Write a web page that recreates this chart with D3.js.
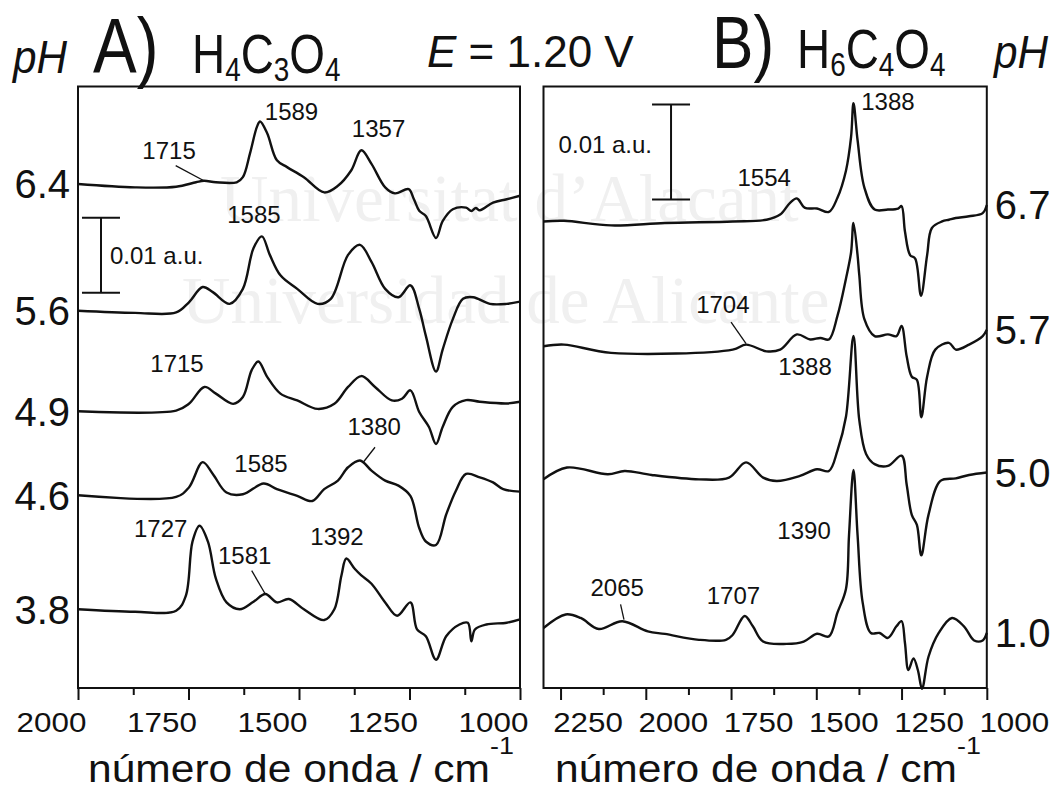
<!DOCTYPE html>
<html>
<head>
<meta charset="utf-8">
<script src="https://cdn.jsdelivr.net/npm/d3@7"></script>
<style>
  body { margin: 0; background: #fff; }
  svg { display: block; font-family: "Liberation Sans", Arial, sans-serif; }
</style>
</head>
<body>
<svg id="chart" width="1060" height="789"></svg>
<script>
// Spectra: [wavenumber / cm-1, change in absorbance / 10^-3 a.u.] relative to the trace offset
const specA64 = [[2000,0],[1871,-0.45],[1778,-0.37],[1733,0.23],[1715,0.43],[1688,0.23],[1641,0.23],[1627,0.91],[1611,4.05],[1595,7.65],[1588,8.33],[1572,6.76],[1550,3.16],[1527,2.25],[1489,0.91],[1443,-1.12],[1412,-0.24],[1382,1.8],[1359,4.5],[1336,2.69],[1305,-0.45],[1283,-1.25],[1252,-0.68],[1240,-2.03],[1228,-3.57],[1213,-4.28],[1190,-7.2],[1175,-4.96],[1152,-3.37],[1122,-3.15],[1110,-3.6],[1100,-3.2],[1091,-3.5],[1061,-2.48],[1030,-2.03],[1000,-1.57]];
const specA56 = [[2000,0],[1871,-0.28],[1778,-0.23],[1749,1.13],[1718,3.16],[1695,2.48],[1657,0.92],[1627,2.92],[1603,8.33],[1584,9.91],[1566,7.45],[1542,4.73],[1504,2.92],[1458,0.92],[1428,1.59],[1389,7.45],[1362,8.79],[1336,6.52],[1305,2.92],[1275,1.8],[1248,3.39],[1228,0.25],[1213,-3.35],[1190,-8.1],[1175,-5.17],[1152,-1.12],[1129,1.59],[1106,1.8],[1068,0.92],[1030,0.92],[1000,1.21]];
const specA49 = [[2000,0],[1778,0.09],[1749,0.99],[1714,3.24],[1688,2.35],[1649,0.99],[1627,1.89],[1607,5.49],[1592,6.63],[1572,4.59],[1542,2.35],[1504,1.44],[1458,0.31],[1420,0.99],[1389,3.24],[1359,4.69],[1328,3.24],[1290,1.44],[1267,1.67],[1248,2.79],[1228,-0.1],[1206,-2.1],[1190,-4.37],[1175,-2.1],[1152,0.59],[1122,1.49],[1091,1.27],[1030,1.04],[1000,1.27]];
const specA46 = [[2000,0],[1778,-0.23],[1749,1.04],[1718,4.41],[1695,2.84],[1664,0.36],[1627,0.13],[1580,1.57],[1550,0.81],[1504,-0.09],[1470,-0.77],[1443,0.81],[1412,1.95],[1389,3.73],[1362,4.64],[1336,3.28],[1305,1.95],[1275,1.28],[1248,-0.09],[1228,-4.37],[1213,-6.17],[1190,-6.63],[1167,-2.57],[1145,0.61],[1122,2.84],[1091,2.39],[1061,1.71],[1038,0.81],[1000,0.49]];
const specA38 = [[2000,0],[1871,-0.33],[1778,-0.2],[1756,1.8],[1741,9.01],[1725,11.13],[1706,9.01],[1688,4.07],[1664,0.91],[1634,0],[1603,1.0],[1576,2.03],[1550,0.91],[1523,1.36],[1489,0],[1443,-1.44],[1420,0],[1404,4.51],[1393,6.76],[1374,5.4],[1359,4.51],[1336,3.4],[1305,0.91],[1278,-0.87],[1248,0.91],[1233,-2.69],[1213,-3.6],[1190,-6.73],[1167,-3.6],[1137,-2.03],[1118,-1.8],[1110,-4.28],[1102,-2.69],[1076,-2.03],[1030,-1.8],[1000,-1.35]];

const specB67 = [[2300,0],[2240,0.07],[2102,-0.42],[1944,-0.17],[1745,0],[1646,0.18],[1606,0.72],[1577,1.96],[1557,2.42],[1533,1.43],[1498,1.36],[1463,1.0],[1438,2.49],[1413,5.34],[1398,8.89],[1391,12.45],[1379,8.57],[1359,3.56],[1329,1.25],[1290,1.25],[1260,1.36],[1250,1.62],[1240,-1.06],[1225,-3.54],[1210,-3.91],[1193,-7.82],[1175,-3.54],[1161,-0.69],[1131,0],[1111,0.18],[1091,0.36],[1052,0.54],[1012,0.88],[1000,1.73]];
const specB57 = [[2300,0],[2240,0.18],[2102,-0.69],[1745,-0.35],[1706,0.18],[1646,-0.53],[1606,-0.35],[1557,1.25],[1518,0.72],[1488,0.88],[1463,0.72],[1438,3.2],[1413,7.12],[1398,9.9],[1391,12.99],[1379,9.6],[1374,7.52],[1359,2.85],[1329,1.07],[1290,1.25],[1265,1.07],[1250,2.15],[1235,-1.06],[1220,-3.2],[1205,-3.54],[1192,-7.46],[1175,-3.2],[1151,-0.35],[1111,0.36],[1091,-0.35],[1052,0.18],[1012,1.07],[1000,1.73]];
const specB50 = [[2300,0],[2231,1.24],[2111,0.54],[2062,0.88],[1983,0.46],[1844,0],[1756,0.18],[1706,1.78],[1656,0.18],[1616,-0.17],[1548,0.36],[1498,1.06],[1463,0.88],[1438,3.02],[1413,6.58],[1391,15.09],[1374,6.25],[1354,2.67],[1329,1.6],[1290,1.41],[1250,2.49],[1235,-0.54],[1220,-3.74],[1205,-4.8],[1192,-8.0],[1171,-3.74],[1136,-0.17],[1091,0.1],[1052,0.46],[1000,0.72]];
const specB10 = [[2300,0],[2235,1.42],[2191,1.05],[2138,-0.11],[2069,0.71],[1994,-0.36],[1944,-0.63],[1844,-1.25],[1765,-1.25],[1745,-0.72],[1710,1.26],[1686,0.17],[1656,-1.43],[1587,-1.68],[1537,-1.43],[1498,-0.61],[1463,-0.89],[1438,1.61],[1413,4.11],[1404,9.79],[1391,16.63],[1379,9.79],[1364,2.66],[1340,-0.53],[1314,-0.53],[1290,-1.05],[1265,0.17],[1250,0.71],[1240,-1.58],[1230,-4.42],[1215,-3.2],[1202,-4.45],[1190,-6.41],[1171,-3.03],[1141,-0.53],[1102,1.05],[1067,0.17],[1037,-1.32],[1012,-1.32],[1000,-0.53]];

const pHA = ["6.4", "5.6", "4.9", "4.6", "3.8"];
const offsetsA = [67.2, 50.3, 36.9, 25.7, 10.5];
const pHB = ["6.7", "5.7", "5.0", "1.0"];
const offsetsB = [49.1, 35.96, 21.96, 6.32];

const ticksA = [2000, 1750, 1500, 1250, 1000];
const minorA = [1875, 1625, 1375, 1125];
const ticksB = [2250, 2000, 1750, 1500, 1250, 1000];
const minorB = [2125, 1875, 1625, 1375, 1125];

// peak labels: wavenumber and absorbance (10^-3 a.u.) where each label sits
const peaksA = [
  { text: "1589", wn: 1517, v: 75.7 }, { text: "1357", wn: 1320, v: 73.5 },
  { text: "1715", wn: 1794, v: 70.5 }, { text: "1585", wn: 1602, v: 62.0 },
  { text: "1715", wn: 1776, v: 42.1 }, { text: "1380", wn: 1330, v: 33.7 },
  { text: "1585", wn: 1586, v: 28.8 }, { text: "1727", wn: 1813, v: 20.1 },
  { text: "1581", wn: 1623, v: 16.5 }, { text: "1392", wn: 1414, v: 19.1 }
];
const leadersA = [[1779, 69.65, 1714, 67.6], [1328, 32.1, 1355, 30.07], [1607, 15.65, 1576, 12.5]];
const peaksB = [
  { text: "1388", wn: 1290, v: 60.8 }, { text: "1554", wn: 1653, v: 52.8 },
  { text: "1704", wn: 1774, v: 39.5 }, { text: "1388", wn: 1533, v: 32.9 },
  { text: "1390", wn: 1536, v: 15.7 }, { text: "2065", wn: 2084, v: 9.7 },
  { text: "1707", wn: 1743, v: 8.84 }
];
const leadersB = [[1750, 38.5, 1706, 36.25], [2074, 8.8, 2064, 7.2]];

// 0.01 a.u. scale bars: wavenumber, lower end (10^-3 a.u.), length
const barA = [1948, 52.7, 10];
const barB = [1926, 51.4, 10];

const svg = d3.select("#chart");
const plotTop = 86.5, plotBottom = 688;

const xA = d3.scaleLinear().domain([2000, 1000]).range([78, 520]);
const yA = d3.scaleLinear().domain([0, 80.2]).range([plotBottom, plotTop]);
const xB = d3.scaleLinear().domain([2300, 1000]).range([543.5, 986.8]);
const yB = d3.scaleLinear().domain([0, 63.3]).range([plotBottom, plotTop]);

// faint watermark behind everything
const wm = svg.append("g")
    .attr("fill", "#f0f0f0")
    .attr("font-family", "'Liberation Serif', 'DejaVu Serif', serif")
    .attr("font-size", 67);
wm.append("text").attr("x", 220).attr("y", 221).text("Universitat d\u2019Alacant");
wm.append("text").attr("x", 182).attr("y", 323).text("Universidad de Alicante");

function addText(g, x, y, str, size, opts = {}) {
    const t = g.append("text")
        .attr("transform", `translate(${x},${y}) scale(${opts.sx || 1},${opts.sy || 1})`)
        .attr("font-size", size)
        .attr("text-anchor", opts.anchor || "start")
        .attr("fill", "#111")
        .text(str);
    if (opts.italic) t.attr("font-style", "italic");
    if (opts.dy) t.attr("dy", opts.dy);
    return t;
}

function drawPanel(x, y, specs, offsets, pHs, ticks, minor, labelShift, peaks, leaders, bar, barTextRight, side) {
    const g = svg.append("g");
    const [x0, x1] = x.range();

    // minor and major ticks
    g.append("g")
        .attr("transform", `translate(0,${plotBottom})`)
        .call(d3.axisBottom(x).tickValues(minor).tickSize(7).tickFormat(""))
        .call(a => a.select(".domain").remove())
        .selectAll("line").attr("stroke", "#111").attr("stroke-width", 2);

    const major = g.append("g")
        .attr("transform", `translate(0,${plotBottom})`)
        .call(d3.axisBottom(x).tickValues(ticks).tickSize(12).tickFormat(d3.format("d")));
    major.select(".domain").remove();
    major.selectAll("line").attr("stroke", "#111").attr("stroke-width", 2);
    major.selectAll("text")
        .attr("y", 0).attr("dy", null)
        .attr("fill", "#111")
        .attr("font-size", 28)
        .attr("font-family", "'Liberation Sans', Arial, sans-serif")
        .attr("transform", `translate(${labelShift},44) scale(1.12,1)`);

    // traces
    const line = (off) => d3.line()
        .x(d => x(d[0]))
        .y(d => y(off + d[1]))
        .curve(d3.curveCatmullRom.alpha(0.5));
    specs.forEach((s, i) => {
        g.append("path")
            .datum(s)
            .attr("fill", "none")
            .attr("stroke", "#111")
            .attr("stroke-width", 2.4)
            .attr("stroke-linejoin", "round")
            .attr("d", line(offsets[i]));
    });

    // frame
    g.append("rect")
        .attr("x", x0).attr("y", plotTop)
        .attr("width", x1 - x0).attr("height", plotBottom - plotTop)
        .attr("fill", "none").attr("stroke", "#111").attr("stroke-width", 2);

    // pH values next to the traces
    specs.forEach((s, i) => {
        const end = side === "left" ? s[0] : s[s.length - 1];
        const px = side === "left" ? x0 - 8 : x1 + 8;
        addText(g, px, y(offsets[i] + end[1]), pHs[i], 40,
            { anchor: side === "left" ? "end" : "start", dy: "0.36em" });
    });

    // peak labels and leader lines
    peaks.forEach(p => addText(g, x(p.wn), y(p.v), p.text, 24, { anchor: "middle" }));
    leaders.forEach(l => {
        g.append("line")
            .attr("x1", x(l[0])).attr("y1", y(l[1]))
            .attr("x2", x(l[2])).attr("y2", y(l[3]))
            .attr("stroke", "#111").attr("stroke-width", 1.3);
    });

    // scale bar
    const bx = x(bar[0]), b0 = y(bar[1]), b1 = y(bar[1] + bar[2]);
    const bg = g.append("g").attr("stroke", "#111").attr("stroke-width", 2);
    bg.append("line").attr("x1", bx).attr("x2", bx).attr("y1", b0).attr("y2", b1);
    bg.append("line").attr("x1", bx - 19).attr("x2", bx + 19).attr("y1", b0).attr("y2", b0);
    bg.append("line").attr("x1", bx - 19).attr("x2", bx + 19).attr("y1", b1).attr("y2", b1);
    if (barTextRight) {
        addText(g, bx + 9, (b0 + b1) / 2, "0.01 a.u.", 24, { dy: "0.36em" });
    } else {
        addText(g, bx - 19, b1 + 48, "0.01 a.u.", 24, { anchor: "end" });
    }
}

drawPanel(xA, yA, [specA64, specA56, specA49, specA46, specA38], offsetsA, pHA,
    ticksA, minorA, -27, peaksA, leadersA, barA, true, "left");
drawPanel(xB, yB, [specB67, specB57, specB50, specB10], offsetsB, pHB,
    ticksB, minorB, 27, peaksB, leadersB, barB, false, "right");

// headings
const head = svg.append("g");
addText(head, 13, 73, "pH", 46, { italic: true, sx: 0.92 });
addText(head, 93, 72.6, "A)", 78, { sx: 0.84 });
const fA = addText(head, 192, 72.6, "", 56, { sx: 0.82 });
fA.append("tspan").text("H");
fA.append("tspan").attr("font-size", 34).attr("dy", 8).text("4");
fA.append("tspan").attr("dy", -8).text("C");
fA.append("tspan").attr("font-size", 34).attr("dy", 8).text("3");
fA.append("tspan").attr("dy", -8).text("O");
fA.append("tspan").attr("font-size", 34).attr("dy", 8).text("4");
const eT = addText(head, 427, 67, "", 44);
eT.append("tspan").attr("font-style", "italic").text("E");
eT.append("tspan").text(" = 1.20 V");
addText(head, 712, 67.6, "B)", 74, { sx: 0.84 });
const fB = addText(head, 797, 67.6, "", 56, { sx: 0.82 });
fB.append("tspan").text("H");
fB.append("tspan").attr("font-size", 34).attr("dy", 8).text("6");
fB.append("tspan").attr("dy", -8).text("C");
fB.append("tspan").attr("font-size", 34).attr("dy", 8).text("4");
fB.append("tspan").attr("dy", -8).text("O");
fB.append("tspan").attr("font-size", 34).attr("dy", 8).text("4");
addText(head, 994, 67.6, "pH", 46, { italic: true, sx: 0.92 });

// x axis titles
[88, 555].forEach(tx => {
    const t = addText(svg, tx, 782, "", 38, { sx: 1.12 });
    t.append("tspan").text("número de onda / cm");
    t.append("tspan").attr("font-size", 24).attr("dy", -28).text("-1");
});
</script>
</body>
</html>
